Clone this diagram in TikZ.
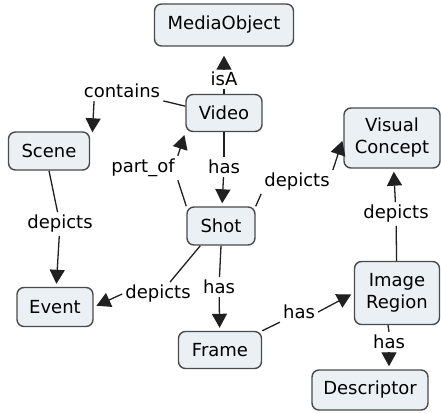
\documentclass[tikz,border=0pt]{standalone}
\usepackage{fontspec}
\setmainfont{DejaVu Sans}
\usetikzlibrary{arrows.meta,calc}
\definecolor{boxfill}{HTML}{EAF0F4}
\definecolor{boxline}{HTML}{4A4A4A}
\definecolor{lnk}{HTML}{202020}
\tikzset{
  concept/.style={draw=boxline, fill=boxfill, line width=1.4pt, rounded corners=7pt,
    align=center, inner sep=0pt, font=\fontsize{18}{22}\selectfont},
  lbl/.style={inner sep=3pt, font=\fontsize{18}{20}\selectfont},
  ln/.style={draw=lnk, line width=1.3pt},
  arr/.style={draw=lnk, line width=1.3pt, -{Triangle[length=14pt,width=15pt]}, shorten >=3pt}
}
\begin{document}
\begin{tikzpicture}[x=1pt,y=-1pt]
\useasboundingbox (0,0) rectangle (441,414);
% concepts
\node[concept, minimum width=139pt, minimum height=42pt] (media) at (224,25) {MediaObject};
\node[concept, minimum width=76pt, minimum height=37pt] (video) at (224,113) {Video};
\node[concept, minimum width=81pt, minimum height=38pt] (scene) at (49,151) {Scene};
\node[concept, minimum width=96pt, minimum height=60pt] (vc) at (392,138) {Visual\\Concept};
\node[concept, minimum width=68pt, minimum height=38pt] (shot) at (221,226) {Shot};
\node[concept, minimum width=76pt, minimum height=39pt] (event) at (55,307) {Event};
\node[concept, minimum width=83pt, minimum height=37pt] (frame) at (220,350) {Frame};
\node[concept, minimum width=85pt, minimum height=63pt] (ir) at (397,293) {Image\\Region};
\node[concept, minimum width=116pt, minimum height=40pt] (desc) at (370,390) {Descriptor};
% labels
\node[lbl] (isA) at (224,79) {isA};
\node[lbl] (contains) at (122,91) {contains};
\node[lbl] (partof) at (143,168) {part\_of};
\node[lbl] (has1) at (224,167) {has};
\node[lbl] (dep1) at (297,182) {depicts};
\node[lbl] (dep2) at (60,224) {depicts};
\node[lbl] (dep3) at (396,214) {depicts};
\node[lbl] (dep4) at (158,294) {depicts};
\node[lbl] (has2) at (219,287) {has};
\node[lbl] (has3) at (299,312) {has};
\node[lbl] (has4) at (389,342) {has};
% connectors
\draw[ln] (video) -- (isA);
\draw[arr, shorten >=9pt] (isA) -- (media);
\draw[ln] (video.170) -- (contains);
\draw[arr] (contains.200) -- ($(scene.north east)+(2,4)$);
\draw[ln] (video) -- (has1);
\draw[arr] (has1) -- (shot);
\draw[ln] (shot.north west) -- (partof.south east);
\draw[arr] (partof.north east) -- (video.south west);
\draw[ln] (shot.north east) -- (dep1.south west);
\draw[arr] (dep1.north east) -- (vc.west);
\draw[ln] (scene.south) -- (dep2);
\draw[arr] (dep2) -- (event);
\draw[ln] ($(shot.south west)+(14,0)$) -- ($(dep4.north)+(12,0)$);
\draw[arr] (dep4.west) -- (event.east);
\draw[ln] (shot.south) -- (has2);
\draw[arr] (has2) -- (frame);
\draw[ln] (frame.north east) -- (has3.south west);
\draw[arr] (has3.east) -- (ir.west);
\draw[ln] (ir) -- (dep3);
\draw[arr] (dep3) -- (vc);
\draw[ln] (ir.south) ++(-9,0) -- (has4.north);
\draw[arr] (has4.south) -- (has4.south |- desc.north);
\end{tikzpicture}
\end{document}
